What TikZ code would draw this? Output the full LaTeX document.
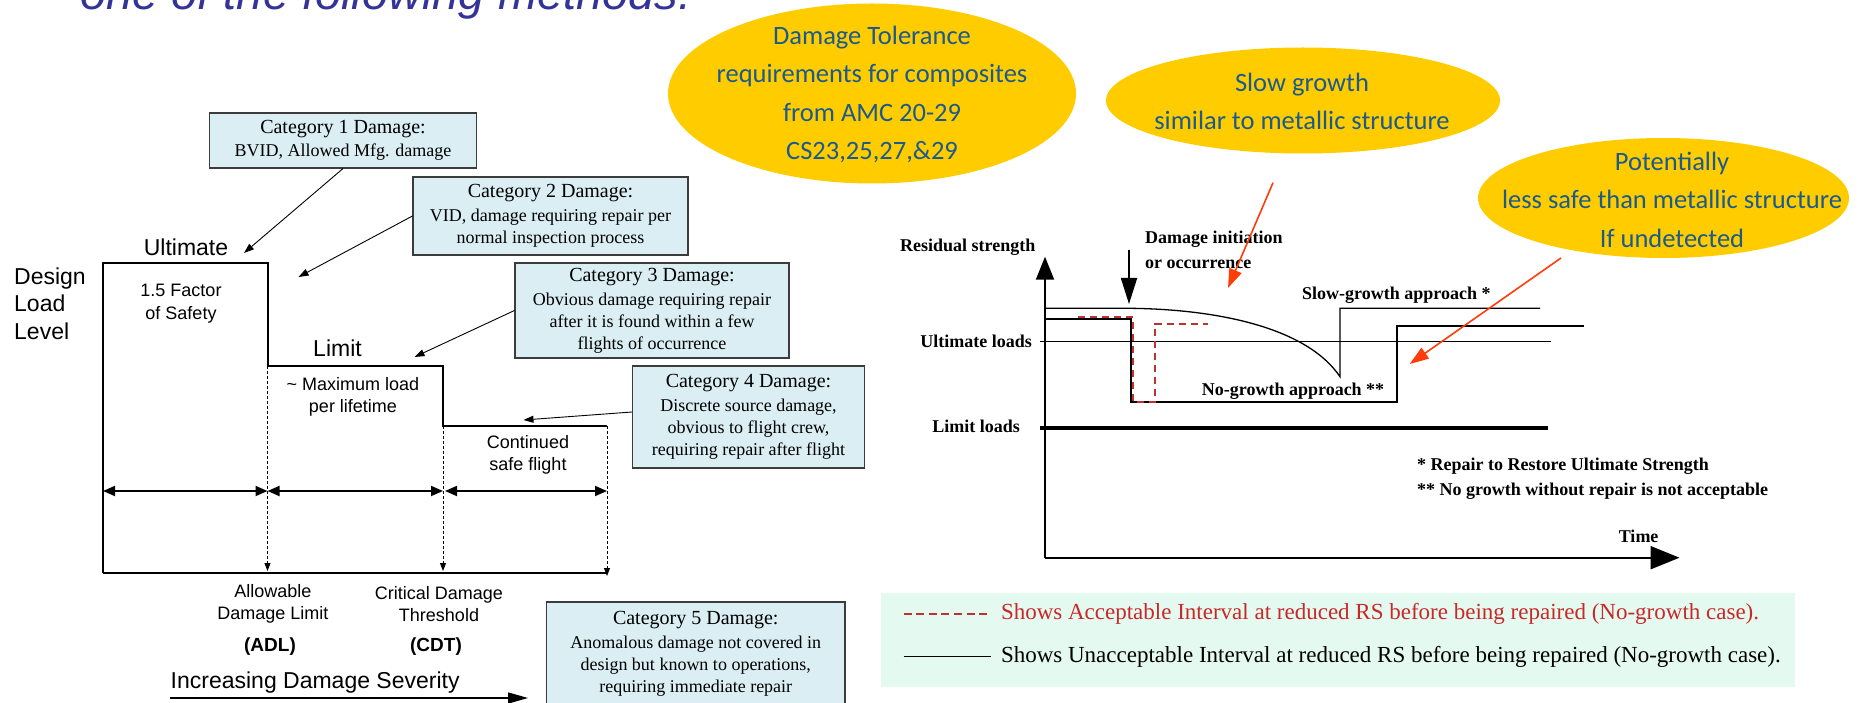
\documentclass[tikz,border=0pt]{standalone}
\usepackage{fontspec}
\setmainfont{Liberation Serif}
\newfontfamily\arialf{Liberation Sans}
\newfontfamily\calibf{Carlito}
\usetikzlibrary{arrows.meta,shapes.geometric}
\definecolor{catblue}{RGB}{218,238,243}
\definecolor{goldy}{RGB}{255,204,0}
\definecolor{elltxt}{RGB}{28,90,140}
\definecolor{titleblue}{RGB}{51,51,153}
\definecolor{redarr}{RGB}{255,60,10}
\definecolor{dashred}{RGB}{190,50,50}
\definecolor{legred}{RGB}{200,40,40}
\definecolor{mint}{RGB}{228,250,240}
\definecolor{boxline}{RGB}{60,60,60}
\newcommand\cattitlefont{\fontsize{20}{22}\selectfont}
\begin{document}
\begin{tikzpicture}[x=1pt,y=-1pt,
  catbox/.style={draw=boxline, line width=1.1pt, fill=catblue, inner sep=0pt, align=center, font=\fontsize{18}{22}\selectfont},
  catarrow/.style={line width=0.9pt, -{Triangle[width=7pt,length=10pt]}},
  outl/.style={line width=2pt},
  dashv/.style={line width=0.9pt, dash pattern=on 3pt off 2pt, -{Triangle[width=6pt,length=8pt]}},
  dimarrow/.style={line width=1.8pt, {Triangle[width=10pt,length=12pt]}-{Triangle[width=10pt,length=12pt]}},
  sanslab/.style={font=\arialf\fontsize{23}{27.5}\selectfont, inner sep=0pt, align=left},
  sanssmall/.style={font=\arialf\fontsize{18}{22.5}\selectfont, align=center, inner sep=0pt},
  ell/.style={ellipse, fill=goldy, inner sep=0pt},
  elltext/.style={font=\calibf\fontsize{26.5}{38.5}\selectfont, text=elltxt, align=center, inner sep=0pt},
  glab/.style={font=\bfseries\fontsize{18}{25}\selectfont, inner sep=0pt, align=left},
  legtext/.style={font=\fontsize{23}{27}\selectfont, inner sep=0pt, anchor=west},
  redarrow/.style={draw=redarr, line width=1.6pt, -{Triangle[width=13pt,length=19pt]}}
]
\useasboundingbox (0,0) rectangle (1864,703);
\clip (0,0) rectangle (1864,703);

% ---------- title (cut off at top)
\node[anchor=base west, inner sep=0pt, font=\arialf\itshape\fontsize{47}{50}\selectfont, text=titleblue] (title) at (80,10) {one of the following methods:};

% ---------- yellow ellipses
\node[ell, minimum width=408pt, minimum height=180pt] (e1) at (872,93.5) {};
\node[elltext] (e1t) at (872,94.5) {Damage Tolerance\\requirements for composites\\from AMC 20-29\\CS23,25,27,\&29};
\node[ell, minimum width=394pt, minimum height=106pt] (e2) at (1303,100.5) {};
\node[elltext] (e2t) at (1302,101.5) {Slow growth\\similar to metallic structure};
\node[ell, minimum width=371pt, minimum height=120pt] (e3) at (1663.5,198) {};
\node[elltext] (e3t) at (1672,199.5) {Potentially\\less safe than metallic structure\\If undetected};

% ---------- left diagram: category boxes
\node[catbox, minimum width=267pt, minimum height=55pt] (cat1) at (343,140.5)
  {{\cattitlefont Category 1 Damage:}\\[1pt]BVID, Allowed Mfg. damage};
\node[catbox, minimum width=275pt, minimum height=78pt] (cat2) at (550.5,216)
  {{\cattitlefont Category 2 Damage:}\\[2pt]VID, damage requiring repair per\\normal inspection process};
\node[catbox, minimum width=274pt, minimum height=95pt] (cat3) at (652,310.5)
  {{\cattitlefont Category 3 Damage:}\\[2pt]Obvious damage requiring repair\\after it is found within a few\\flights of occurrence};
\node[catbox, minimum width=232pt, minimum height=102pt] (cat4) at (748.5,417)
  {{\cattitlefont Category 4 Damage:}\\[2pt]Discrete source damage,\\obvious to flight crew,\\requiring repair after flight};
\node[catbox, minimum width=298.5pt, minimum height=103pt] (cat5) at (695.75,653.5)
  {{\cattitlefont Category 5 Damage:}\\[2pt]Anomalous damage not covered in\\design but known to operations,\\requiring immediate repair};

\coordinate (t1) at (244,253);
\coordinate (t2) at (298.5,277);
\coordinate (t3) at (414.5,357);
\coordinate (t4) at (523.5,420);
\draw[catarrow] (cat1.south) -- (t1);
\draw[catarrow] (cat2.west) -- (t2);
\draw[catarrow] (cat3.west) -- (t3);
\draw[catarrow] ([yshift=5pt]cat4.west) -- (t4);

% ---------- left diagram: outline
\draw[outl] (103,573) -- (103,263) -- (267.5,263) -- (267.5,366) -- (443,366) -- (443,426) -- (607,426);
\draw[outl] (103,573) -- (608,573);
\draw[dashv] (267.5,366) -- (267.5,571);
\draw[dashv] (443,426) -- (443,571);
\draw[dashv] (607,426) -- (607,576);
\draw[dimarrow] (103,491) -- (267.5,491);
\draw[dimarrow] (267.5,491) -- (443,491);
\draw[dimarrow] (445,491) -- (607,491);

% ---------- left diagram: labels
\node[sanslab] (ult) at (186,247) {Ultimate};
\node[sanslab, anchor=west] (dll) at (14,303.5) {Design\\Load\\Level};
\node[sanslab] (lim) at (337.5,348) {Limit};
\node[sanssmall] (fos) at (181,303.5) {1.5 Factor\\of Safety};
\node[sanssmall] (maxl) at (353,397) {\textasciitilde{} Maximum load\\per lifetime};
\node[sanssmall] (csf) at (528,455) {Continued\\safe flight};
\node[sanssmall] (adl) at (273,604) {Allowable\\Damage Limit};
\node[sanssmall] (cdt) at (439,604) {Critical Damage\\Threshold};
\node[sanssmall, font=\arialf\bfseries\fontsize{19}{22}\selectfont] (adlb) at (270,647) {(ADL)};
\node[sanssmall, font=\arialf\bfseries\fontsize{19}{22}\selectfont] (cdtb) at (436,647) {(CDT)};
\node[sanslab, anchor=west] (sev) at (170.5,683) {Increasing Damage Severity};
\coordinate (sevL) at (170,698);
\coordinate (sevR) at (528,698);
\draw[line width=1.5pt, -{Triangle[width=11pt,length=20pt]}] (sevL) -- (sevR);

% ---------- right graph
\draw[line width=2pt, -{Triangle[width=18pt,length=23pt]}] (1045,557.7) -- (1045,256.7);
\draw[line width=2pt, -{Triangle[width=23pt,length=29pt]}] (1045,557.7) -- (1679.5,557.7);
\draw[line width=1.8pt, -{Triangle[width=16pt,length=26pt]}] (1129,250) -- (1129,304);
% slow growth line
\draw[line width=1.3pt] (1045,308.3) -- (1129,308.3) .. controls (1210,309) and (1305,325) .. (1340,376.7) -- (1340,308.3) -- (1540,308.3);
% no growth line
\draw[line width=2pt] (1045,319.3) -- (1131,319.3) -- (1131,402.3) -- (1397,402.3) -- (1397,326) -- (1584,326);
% ultimate and limit loads
\draw[line width=1.5pt] (1040,341.7) -- (1550.7,341.7);
\draw[line width=4pt] (1040,428.3) -- (1548,428.3);
% red dashed acceptable interval
\draw[dashred, line width=2pt, dash pattern=on 7pt off 5pt] (1078,317.3) -- (1133,317.3) -- (1133,402.3) -- (1155,402.3) -- (1155,324) -- (1208,324);

% graph labels
\node[glab, anchor=west] (rs) at (900,247) {Residual strength};
\node[glab, anchor=west] (dio) at (1145,249.5) {Damage initiation\\or occurrence};
\node[glab, anchor=east] (ultl) at (1032,341.7) {Ultimate loads};
\node[glab, anchor=east] (liml) at (1020,426) {Limit loads};
\node[glab, anchor=west] (sga) at (1302,295) {Slow-growth approach *};
\node[glab, anchor=west] (nga) at (1201.7,391.7) {No-growth approach **};
\node[glab, anchor=west] (fn1) at (1417,466.7) {* Repair to Restore Ultimate Strength};
\node[glab, anchor=west] (fn2) at (1417,491.7) {** No growth without repair is not acceptable};
\node[glab, anchor=west] (time) at (1618.6,536) {Time};

% red arrows
\coordinate (r1s) at (1273,182.7);
\coordinate (r1e) at (1228,288);
\coordinate (r2s) at (1561,258);
\coordinate (r2e) at (1409.7,364);
\draw[redarrow] (r1s) -- (r1e);
\draw[redarrow] (r2s) -- (r2e);

% ---------- legend
\node[fill=mint, inner sep=0pt, minimum width=914.2pt, minimum height=94.6pt] (leg) at (1337.6,640) {};
\coordinate (l1a) at (903.5,614.3);
\coordinate (l1b) at (991,614.3);
\coordinate (l2a) at (903.5,656.7);
\coordinate (l2b) at (991,656.7);
\draw[dashred, line width=2pt, dash pattern=on 8pt off 4.6pt] (l1a) -- (l1b);
\draw[line width=1.2pt] (l2a) -- (l2b);
\node[legtext, text=legred] (leg1) at (1000.8,614.3) {Shows Acceptable Interval at reduced RS before being repaired (No-growth case).};
\node[legtext] (leg2) at (1000.8,656.7) {Shows Unacceptable Interval at reduced RS before being repaired (No-growth case).};
\end{tikzpicture}
\end{document}
